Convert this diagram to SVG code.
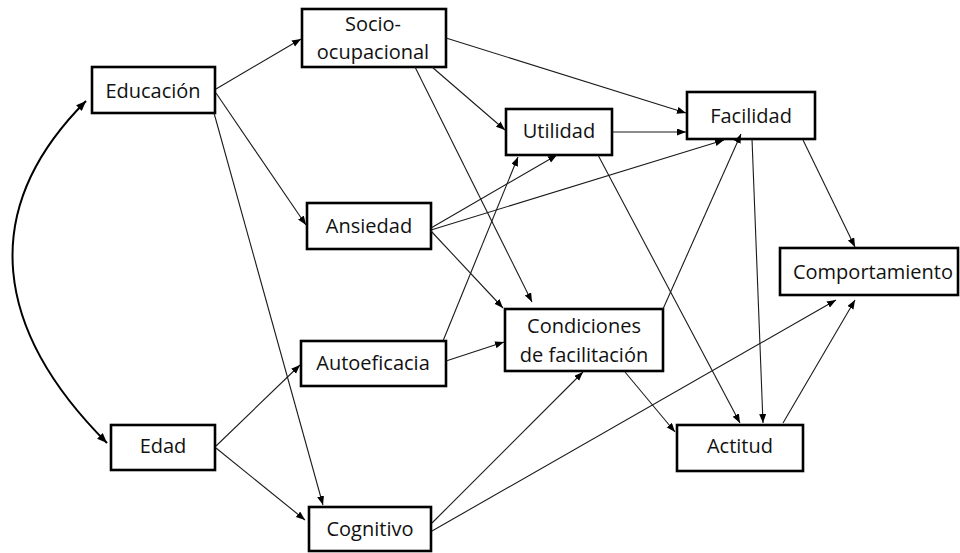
<svg xmlns="http://www.w3.org/2000/svg" width="960" height="553" viewBox="0 0 960 553">
  <style>
    .box { fill: #fff; stroke: #000; stroke-width: 2.6; }
    .lbl { font-family: "Open Sans", "Noto Sans", "Liberation Sans", sans-serif; font-size: 20px; fill: #111; text-anchor: middle; }
    .edge { fill: none; stroke: #1a1a1a; stroke-width: 1.1; marker-end: url(#arrow); }
    .cov { fill: none; stroke: #000; stroke-width: 2; marker-start: url(#arrowStart); marker-end: url(#arrowBold); }
  </style>
  <defs>
    <marker id="arrow" markerUnits="userSpaceOnUse" markerWidth="10" markerHeight="8" refX="9" refY="3.5" orient="auto">
      <path d="M0,0 L9,3.5 L0,7 z" fill="#000"/>
    </marker>
    <marker id="arrowBold" markerUnits="userSpaceOnUse" markerWidth="11" markerHeight="9" refX="10" refY="4" orient="auto">
      <path d="M0,0 L10,4 L0,8 z" fill="#000"/>
    </marker>
    <marker id="arrowStart" markerUnits="userSpaceOnUse" markerWidth="11" markerHeight="9" refX="0" refY="4" orient="auto">
      <path d="M10,0 L0,4 L10,8 z" fill="#000"/>
    </marker>
  </defs>

  <rect width="960" height="553" fill="#fff"/>

  <!-- nodes -->
  <g id="educacion">
    <rect class="box" x="92" y="67" width="123" height="46"/>
    <text class="lbl" x="153" y="98">Educación</text>
  </g>
  <g id="socio-ocupacional">
    <rect class="box" x="302" y="9" width="144" height="58"/>
    <text class="lbl" x="373" y="31">Socio-</text>
    <text class="lbl" x="373" y="59">ocupacional</text>
  </g>
  <g id="utilidad">
    <rect class="box" x="506" y="109" width="106" height="46"/>
    <text class="lbl" x="559" y="138">Utilidad</text>
  </g>
  <g id="facilidad">
    <rect class="box" x="687" y="92" width="128" height="47"/>
    <text class="lbl" x="751" y="123">Facilidad</text>
  </g>
  <g id="ansiedad">
    <rect class="box" x="307" y="203" width="124" height="46"/>
    <text class="lbl" x="369" y="233">Ansiedad</text>
  </g>
  <g id="comportamiento">
    <rect class="box" x="780" y="248" width="178" height="47"/>
    <text class="lbl" x="873" y="279">Comportamiento</text>
  </g>
  <g id="autoeficacia">
    <rect class="box" x="301" y="341" width="145" height="45"/>
    <text class="lbl" x="373" y="370">Autoeficacia</text>
  </g>
  <g id="condiciones">
    <rect class="box" x="505" y="309" width="158" height="62"/>
    <text class="lbl" x="584" y="333">Condiciones</text>
    <text class="lbl" x="584" y="362">de facilitación</text>
  </g>
  <g id="edad">
    <rect class="box" x="111" y="425" width="104" height="45"/>
    <text class="lbl" x="163" y="453">Edad</text>
  </g>
  <g id="actitud">
    <rect class="box" x="677" y="425" width="126" height="46"/>
    <text class="lbl" x="740" y="453">Actitud</text>
  </g>
  <g id="cognitivo">
    <rect class="box" x="309" y="507" width="122" height="44"/>
    <text class="lbl" x="370" y="536">Cognitivo</text>
  </g>

  <!-- connectors -->
  <g id="connectors">
    <path class="cov" d="M86,101 C-25,212 -4,332 107,443"/>
    <line class="edge" x1="216" y1="89" x2="301" y2="39"/>
    <line class="edge" x1="216" y1="93" x2="306" y2="225"/>
    <line class="edge" x1="214" y1="113" x2="323" y2="505"/>
    <line class="edge" x1="446" y1="38" x2="686" y2="113"/>
    <line class="edge" x1="432" y1="67" x2="505" y2="130"/>
    <line class="edge" x1="415" y1="67" x2="532" y2="302"/>
    <line class="edge" x1="612" y1="132" x2="686" y2="132"/>
    <line class="edge" x1="431" y1="228" x2="557" y2="155"/>
    <line class="edge" x1="431" y1="230" x2="724" y2="140"/>
    <line class="edge" x1="431" y1="231" x2="503" y2="308"/>
    <line class="edge" x1="443" y1="341" x2="518" y2="157"/>
    <line class="edge" x1="446" y1="361" x2="504" y2="342"/>
    <line class="edge" x1="663" y1="309" x2="741" y2="134"/>
    <line class="edge" x1="598" y1="155" x2="740" y2="423"/>
    <line class="edge" x1="752" y1="139" x2="763" y2="423"/>
    <line class="edge" x1="803" y1="140" x2="855" y2="247"/>
    <line class="edge" x1="625" y1="372" x2="675" y2="432"/>
    <line class="edge" x1="783" y1="423" x2="855" y2="300"/>
    <line class="edge" x1="432" y1="523" x2="583" y2="372"/>
    <line class="edge" x1="432" y1="531" x2="836" y2="300"/>
    <line class="edge" x1="216" y1="446" x2="300" y2="365"/>
    <line class="edge" x1="216" y1="448" x2="305" y2="520"/>
  </g>
</svg>
